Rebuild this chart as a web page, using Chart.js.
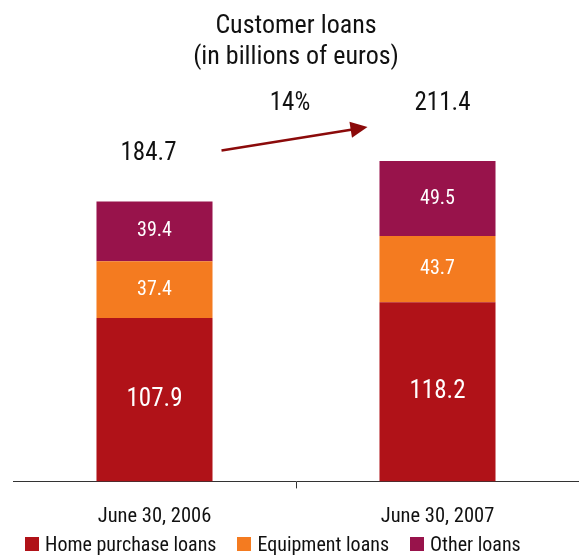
<!DOCTYPE html>
<html>
<head>
<meta charset="utf-8">
<script src="https://cdn.jsdelivr.net/npm/chart.js@4.4.1/dist/chart.umd.min.js"></script>
<style>
  html, body { margin: 0; padding: 0; background: #fff; }
  #wrap { position: relative; width: 579px; height: 556px; overflow: hidden; }
  #chart-box { width: 579px; height: 547px; }
  #legend {
    position: absolute; left: 25px; top: 533px;
    display: flex; align-items: center;
    font-family: 'Roboto Condensed', 'DejaVu Sans Condensed', sans-serif;
    font-size: 20px; color: #111; line-height: 22px;
  }
  #legend span.item { display: flex; align-items: center; margin-right: 21px; }
  #legend span.box { width: 14px; height: 14px; margin-right: 6px; }
</style>
</head>
<body>
<div id="wrap">
  <div id="chart-box"><canvas id="loans"></canvas></div>
  <div id="legend"></div>
</div>
<script>
// Customer loans, billions of euros
const periods = ["June 30, 2006", "June 30, 2007"];
const homeLoans = [107.9, 118.2];
const equipmentLoans = [37.4, 43.7];
const otherLoans = [39.4, 49.5];
const totals = [184.7, 211.4];
const growthLabel = "14%";

const FONT = "'Roboto Condensed', 'Liberation Sans Narrow', 'DejaVu Sans Condensed', sans-serif";

// value labels inside the segments, totals above, and the growth arrow
const annotations = {
  id: "annotations",
  afterDatasetsDraw(chart) {
    const ctx = chart.ctx;
    const y = chart.scales.y;
    ctx.save();
    ctx.textAlign = "center";
    ctx.textBaseline = "middle";
    chart.data.datasets.forEach((ds, di) => {
      const meta = chart.getDatasetMeta(di);
      meta.data.forEach((bar, i) => {
        ctx.fillStyle = "#fff";
        ctx.font = (di === 0 ? "25px " : "20px ") + FONT;
        ctx.fillText(ds.data[i].toFixed(1), bar.x, (bar.y + bar.base) / 2);
      });
    });

    const bars = chart.getDatasetMeta(0).data;
    const lift = [48, 57];
    const shift = [-6, 5];
    const pos = totals.map((t, i) => ({ x: bars[i].x + shift[i], y: y.getPixelForValue(t) - lift[i] }));
    ctx.fillStyle = "#111";
    ctx.font = "25px " + FONT;
    totals.forEach((t, i) => ctx.fillText(t.toFixed(1), pos[i].x, pos[i].y));
    ctx.fillText(growthLabel, (bars[0].x + bars[1].x) / 2 - 6, pos[1].y);

    // arrow between the two totals
    const x0 = bars[0].x + 67, y0 = pos[0].y - 3;
    const x1 = bars[1].x - 70, y1 = pos[1].y + 23;
    const ang = Math.atan2(y1 - y0, x1 - x0);
    ctx.strokeStyle = "#8b0a0a";
    ctx.fillStyle = "#8b0a0a";
    ctx.lineWidth = 2.5;
    ctx.beginPath();
    ctx.moveTo(x0, y0);
    ctx.lineTo(x1 - 12 * Math.cos(ang), y1 - 12 * Math.sin(ang));
    ctx.stroke();
    ctx.beginPath();
    ctx.moveTo(x1, y1);
    ctx.lineTo(x1 - 17 * Math.cos(ang) + 8 * Math.sin(ang), y1 - 17 * Math.sin(ang) - 8 * Math.cos(ang));
    ctx.lineTo(x1 - 17 * Math.cos(ang) - 8 * Math.sin(ang), y1 - 17 * Math.sin(ang) + 8 * Math.cos(ang));
    ctx.closePath();
    ctx.fill();
    ctx.restore();
  }
};

const chart = new Chart(document.getElementById("loans"), {
  type: "bar",
  data: {
    labels: periods,
    datasets: [
      { label: "Home purchase loans", data: homeLoans, backgroundColor: "#b01218" },
      { label: "Equipment loans", data: equipmentLoans, backgroundColor: "#f47b20" },
      { label: "Other loans", data: otherLoans, backgroundColor: "#98134b" }
    ]
  },
  options: {
    responsive: true,
    maintainAspectRatio: false,
    animation: false,
    datasets: { bar: { categoryPercentage: 0.41, barPercentage: 1 } },
    layout: { padding: { left: 13, right: 0, top: 0, bottom: 2 } },
    plugins: {
      title: {
        display: true,
        text: ["Customer loans", "(in billions of euros)"],
        color: "#111",
        font: { family: FONT, size: 26, weight: "normal", lineHeight: 1.2 },
        padding: { top: 11, bottom: 14 }
      },
      legend: { display: false },
      tooltip: { enabled: false }
    },
    scales: {
      x: {
        stacked: true,
        border: { display: true, color: "#333", width: 1 },
        grid: {
          drawOnChartArea: false,
          tickLength: 7,
          color: c => c.index === 1 ? "#333" : "rgba(0,0,0,0)"
        },
        ticks: { color: "#111", padding: 16, font: { family: FONT, size: 20.5 } }
      },
      y: {
        stacked: true,
        display: false,
        min: 0,
        max: 260
      }
    }
  },
  plugins: [annotations]
});

// legend below the canvas
const legend = document.getElementById("legend");
chart.data.datasets.forEach(ds => {
  const item = document.createElement("span");
  item.className = "item";
  item.innerHTML = `<span class="box" style="background:${ds.backgroundColor}"></span>${ds.label}`;
  legend.appendChild(item);
});
</script>
</body>
</html>
